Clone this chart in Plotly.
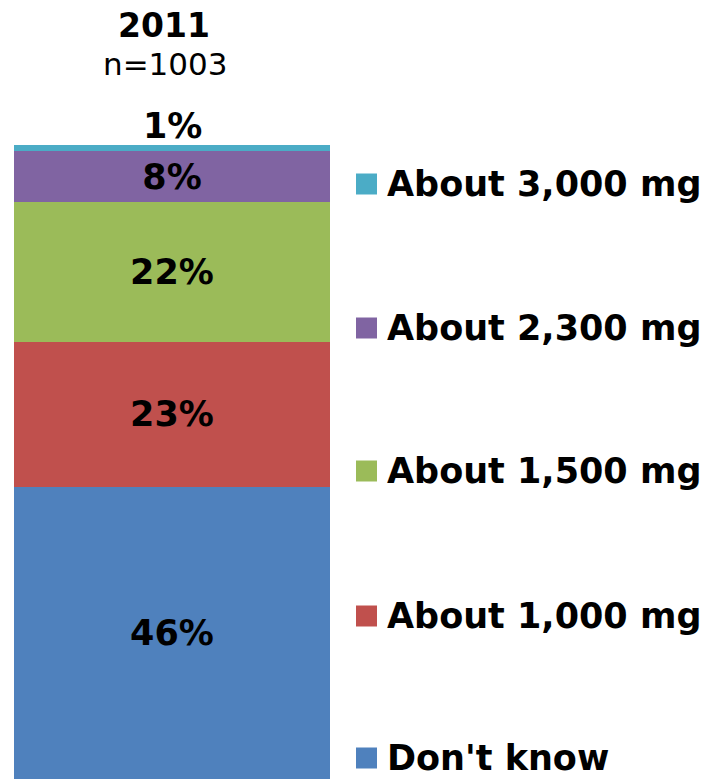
import plotly.graph_objects as go

categories = ["Don't know", "About 1,000 mg", "About 1,500 mg", "About 2,300 mg", "About 3,000 mg"]
values = [46, 23, 22, 8, 1]
colors = ["#4F81BD", "#C0504D", "#9BBB59", "#8064A2", "#4BACC6"]
year_label = "2011"
n_label = "n=1003"

OFF = 8  # page body margin
W, H = 725 - OFF, 779 - OFF
FONT = "DejaVu Sans"
FS = 35

fig = go.Figure()
for i, (cat, val, col) in enumerate(zip(categories, values, colors)):
    last = i == len(values) - 1
    fig.add_trace(go.Bar(
        x=[0], y=[val], name=cat, marker=dict(color=col, line=dict(width=0)),
        width=1,
        text=[f"{val}%"],
        textposition="none" if last else "inside",
        insidetextanchor="middle",
        textfont=dict(family=FONT, size=FS, color="black", weight="bold"),
        cliponaxis=False,
        showlegend=False,
    ))

def px(v):
    return v - OFF

# bar occupies x 14..330 px, y 0% at bottom (779), 100% at 145 px (reference coords)
px_per_x = 316.0
x0 = -0.5 - px(14) / px_per_x
x1 = 0.5 + (W - px(330)) / px_per_x
px_per_y = (779 - 145) / 100.0
ytop = H / px_per_y

legend_y_px = [758, 616, 471, 328, 184]
annotations = [
    dict(x=0, y=sum(values), xref="x", yref="y", text=f"<b>{values[-1]}%</b>",
         showarrow=False, xanchor="center", yanchor="bottom", yshift=-3,
         font=dict(family=FONT, size=FS, color="black")),
    dict(x=px(164) / W, y=1 - px(25) / H, xref="paper", yref="paper", text=f"<b>{year_label}</b>",
         showarrow=False, font=dict(family=FONT, size=33, color="black"), xanchor="center", yanchor="middle",
         borderpad=0),
    dict(x=px(165) / W, y=1 - px(64) / H, xref="paper", yref="paper", text=n_label,
         showarrow=False, font=dict(family=FONT, size=31, color="black"), xanchor="center", yanchor="middle"),
]
shapes = []
for cat, col, ypx in zip(categories, colors, legend_y_px):
    shapes.append(dict(type="rect", xref="paper", yref="paper",
                       x0=px(356) / W, x1=px(377) / W,
                       y0=1 - px(ypx + 10.5) / H, y1=1 - px(ypx - 10.5) / H,
                       fillcolor=col, line=dict(width=0)))
    annotations.append(dict(x=px(385) / W, y=1 - px(ypx) / H, xref="paper", yref="paper",
                            text=f"<b>{cat}</b>", showarrow=False, xanchor="left", yanchor="middle",
                            font=dict(family=FONT, size=FS, color="black")))

fig.update_layout(
    barmode="stack",
    width=W, height=H,
    margin=dict(l=0, r=0, t=0, b=0),
    paper_bgcolor="white", plot_bgcolor="white",
    xaxis=dict(range=[x0, x1], visible=False, fixedrange=True),
    yaxis=dict(range=[0, ytop], visible=False, fixedrange=True),
    uniformtext=dict(minsize=FS, mode="show"),
    annotations=annotations,
    shapes=shapes,
    font=dict(family=FONT),
)

fig.write_html("out.html")
